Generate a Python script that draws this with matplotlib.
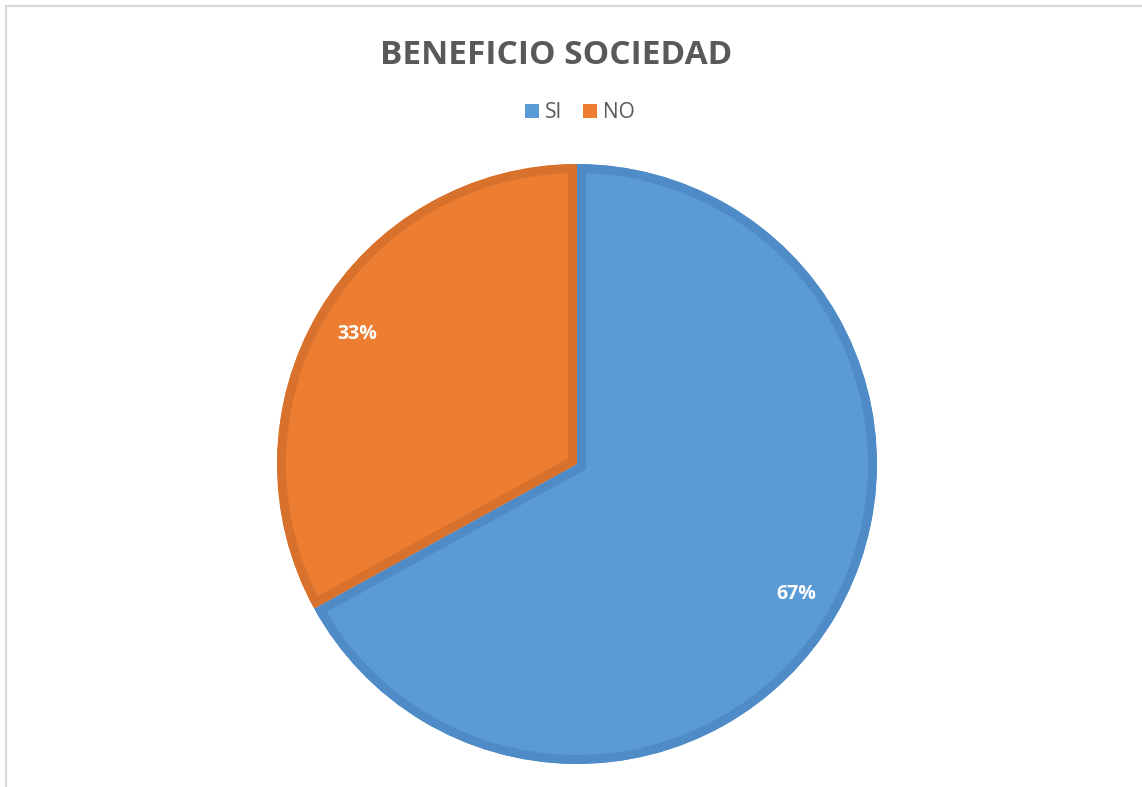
import matplotlib.pyplot as plt
from matplotlib.patches import Patch
from matplotlib.lines import Line2D

# --- data ---
categories = ["SI", "NO"]
values = [67, 33]
fill_colors = ["#5B9BD5", "#ED7D31"]
edge_colors = ["#4F8BC6", "#D8712C"]

plt.rcParams["font.family"] = ["Open Sans", "DejaVu Sans"]

W, H = 1142, 787
fig = plt.figure(figsize=(W / 100, H / 100), dpi=100)

# pie axes: center (577, 464) px, radius ~300 px
cx, cy, r = 577, 464, 300
ax = fig.add_axes([(cx - r) / W, (H - cy - r) / H, 2 * r / W, 2 * r / H])
wedges, texts, autotexts = ax.pie(
    values, colors=fill_colors, startangle=90, counterclock=False,
    autopct="%1.0f%%", pctdistance=0.85, radius=1,
    wedgeprops=dict(linewidth=0),
    textprops=dict(color="white", fontsize=14, fontweight="bold"),
)
ax.set_xlim(-1, 1)
ax.set_ylim(-1, 1)
ax.axis("off")

# darker inner outline on each slice (stroke clipped to the slice itself)
for w, ec in zip(wedges, edge_colors):
    w.set_edgecolor(ec)
    w.set_linewidth(13)
    w.set_clip_on(True)
    w.set_clip_path(w)

fig.text(556 / W, 1 - 55 / H, "BENEFICIO SOCIEDAD", ha="center", va="center",
         fontsize=24, fontweight="bold", color="#595959")

handles = [Patch(facecolor=c, edgecolor="none") for c in fill_colors]
fig.legend(handles, categories, loc="center", bbox_to_anchor=(580 / W, 1 - 113 / H),
           ncol=2, frameon=False, fontsize=15, labelcolor="#595959",
           handlelength=0.65, handleheight=0.65, handletextpad=0.3,
           columnspacing=1.0)

# chart area border (left and top)
fig.add_artist(Line2D([6 / W, 6 / W], [0, 1 - 6 / H], color="#D9D9D9", lw=1.5,
                      transform=fig.transFigure))
fig.add_artist(Line2D([6 / W, 1], [1 - 6 / H, 1 - 6 / H], color="#D9D9D9", lw=1.5,
                      transform=fig.transFigure))

fig.savefig("out.png", dpi=100)
